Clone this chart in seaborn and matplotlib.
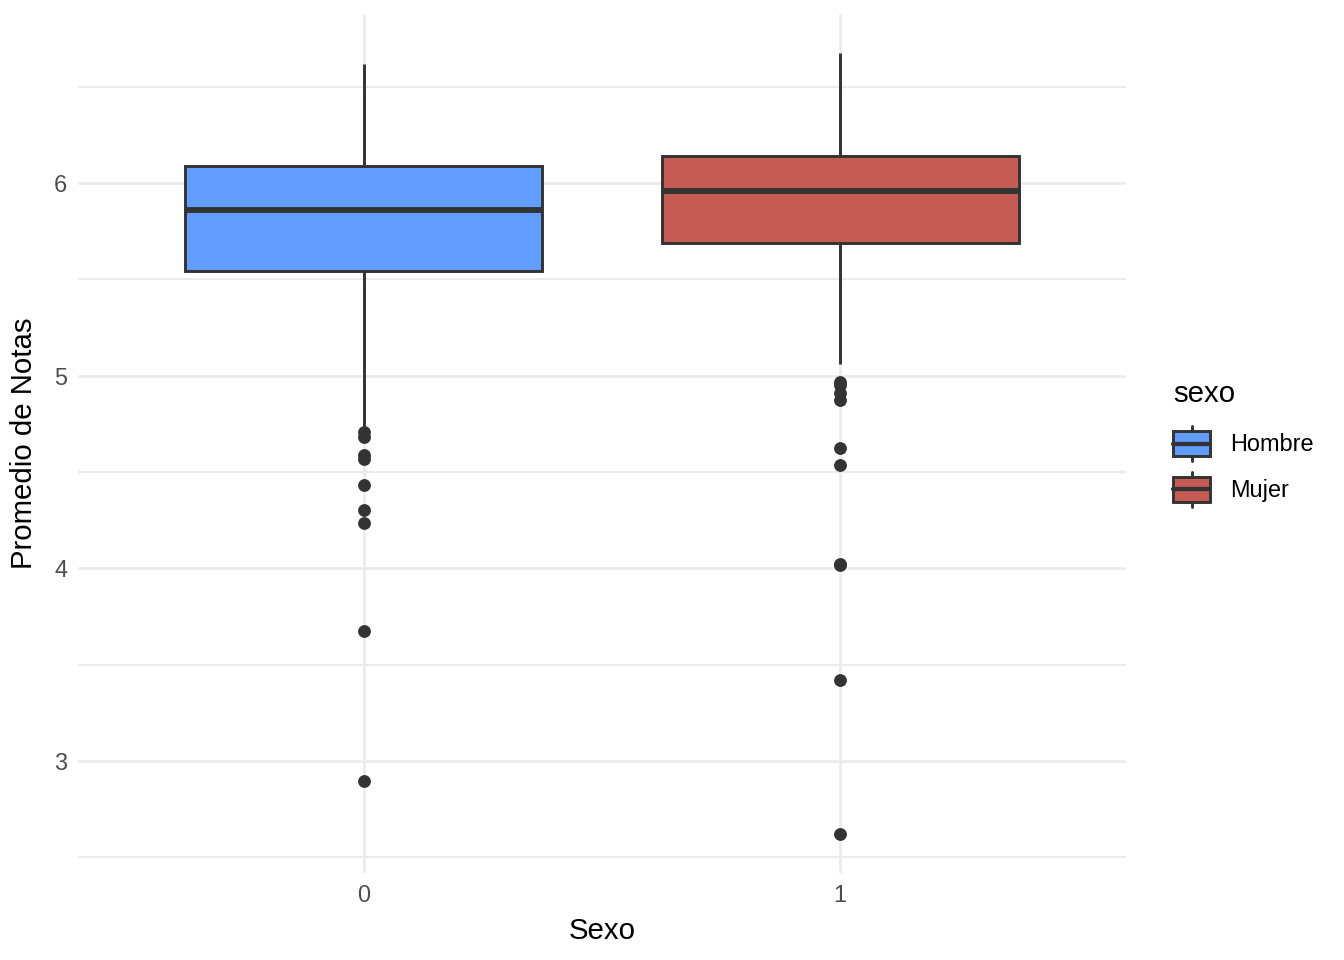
import numpy as np
import pandas as pd
import matplotlib
matplotlib.use("Agg")
import matplotlib.pyplot as plt
from matplotlib.legend_handler import HandlerBase
from matplotlib.patches import Rectangle, Patch
from matplotlib.lines import Line2D
import seaborn as sns

# ---- data ----
sexo_codes = ["0", "1"]
sexo_labels = ["Hombre", "Mujer"]
colors = ["#619CFF", "#C55C54"]
q1 = [5.542, 5.688]
median = [5.860, 5.958]
q3 = [6.088, 6.140]
whisker_low = [4.730, 5.060]
whisker_high = [6.620, 6.676]
outliers_0 = [4.710, 4.684, 4.590, 4.570, 4.430, 4.300, 4.237, 3.675, 2.895]
outliers_1 = [4.970, 4.950, 4.910, 4.875, 4.627, 4.534, 4.022, 4.015, 3.420, 2.620]
outliers = [outliers_0, outliers_1]


def sample_from_summary(q1v, medv, q3v, lo, hi, outl):
    # sample whose quartiles / whiskers / outliers equal the given summary
    k = len(outl)
    t = k + 1
    vals = list(outl) + [lo] + [q1v] * (2 * t - 1 - k) + [medv] + [q3v] * (2 * t - 1) + [hi]
    return vals


rows = []
for i in range(2):
    vals = sample_from_summary(q1[i], median[i], q3[i], whisker_low[i], whisker_high[i], outliers[i])
    for v in vals:
        rows.append({"Sexo": sexo_codes[i], "sexo": sexo_labels[i], "nota": v})
df = pd.DataFrame(rows)

# ---- style ----
sns.set_theme(style="white")
plt.rcParams["font.family"] = ["Liberation Sans", "DejaVu Sans"]
plt.rcParams["text.color"] = "black"

fig = plt.figure(figsize=(7, 5), dpi=192)
ax = fig.add_axes([78 / 1344, 1 - 873 / 960, (1126 - 78) / 1344, (873 - 14) / 960])

line_col = "#333333"
sns.boxplot(
    data=df, x="Sexo", y="nota", hue="sexo", order=sexo_codes, hue_order=sexo_labels,
    palette=colors, width=0.75, dodge=False, saturation=1, ax=ax,
    linecolor=line_col, linewidth=1.1, showcaps=False, whis=1.5,
    medianprops=dict(color=line_col, linewidth=2.2),
    flierprops=dict(marker="o", markerfacecolor=line_col, markeredgecolor=line_col,
                    markersize=4.3, markeredgewidth=0.5),
    legend=False, zorder=3,
)

ax.set_xlim(-0.6, 1.6)
ax.set_ylim(2.417, 6.879)
ax.set_yticks([3, 4, 5, 6])
ax.set_yticks([2.5, 3.5, 4.5, 5.5, 6.5], minor=True)
ax.grid(True, which="major", color="#EBEBEB", linewidth=1.0, zorder=0)
ax.grid(True, which="minor", axis="y", color="#EBEBEB", linewidth=0.8, zorder=0)
ax.set_axisbelow(True)
for s in ax.spines.values():
    s.set_visible(False)
ax.tick_params(axis="both", which="both", length=0, labelsize=8.8, labelcolor="#4D4D4D", pad=4)
ax.set_xlabel("Sexo", fontsize=11, color="black", labelpad=4)
ax.set_ylabel("Promedio de Notas", fontsize=11, color="black", labelpad=6)


# ---- ggplot-like legend keys ----
class BoxKeyHandler(HandlerBase):
    def create_artists(self, legend, orig_handle, xdescent, ydescent, width, height, fontsize, trans):
        fc = orig_handle.get_facecolor()
        bh = height * 0.714
        y0 = (height - bh) / 2 - ydescent
        x0 = -xdescent
        rect = Rectangle((x0, y0), width, bh, facecolor=fc, edgecolor=line_col,
                         linewidth=1.1, transform=trans)
        ymid = y0 + bh / 2
        med = Line2D([x0, x0 + width], [ymid, ymid], color=line_col, linewidth=1.6, transform=trans)
        xm = x0 + width / 2
        w1 = Line2D([xm, xm], [-ydescent, y0], color=line_col, linewidth=1.1, transform=trans)
        w2 = Line2D([xm, xm], [y0 + bh, height - ydescent], color=line_col, linewidth=1.1, transform=trans)
        return [w1, w2, rect, med]


handles = [Patch(facecolor=c) for c in colors]
leg = fig.legend(
    handles, sexo_labels, title="sexo", loc="upper left",
    bbox_to_anchor=(1173 / 1344, 1 - 380 / 960), frameon=False,
    handler_map={Patch: BoxKeyHandler()}, fontsize=8.8, title_fontsize=11,
    handlelength=1.58, handleheight=1.913, handletextpad=0.85, labelspacing=0.44,
    borderaxespad=0, borderpad=0, labelcolor="black",
)
leg.get_title().set_color("black")
leg._legend_box.align = "left"
leg._legend_box.sep = 6.9  # gap between title and keys (points)

fig.savefig("out.png", dpi=192)
